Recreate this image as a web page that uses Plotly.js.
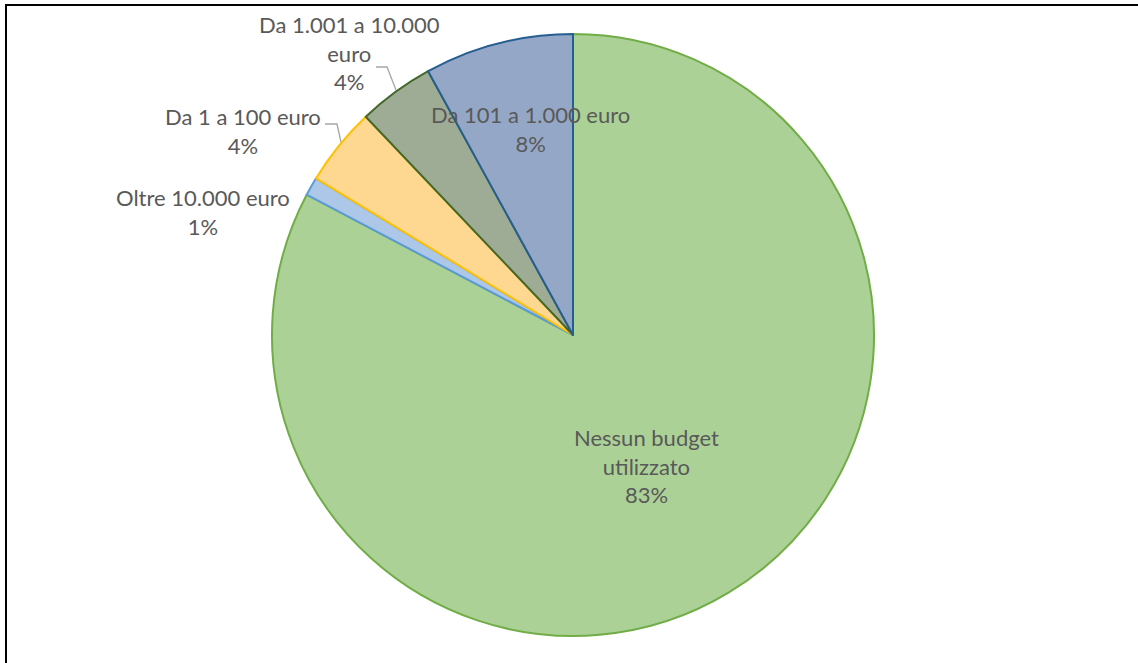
<!DOCTYPE html>
<html>
<head>
<meta charset="utf-8">
<script src="https://cdn.plot.ly/plotly-3.0.1.min.js"></script>
<style>
  html, body { margin: 0; padding: 0; background: #fff; overflow: hidden; }
  #chart { width: 1138px; height: 663px; }
  #frame { position: absolute; left: 5px; top: 4px; width: 2000px; height: 2000px;
           border-left: 2px solid #000; border-top: 2px solid #000; pointer-events: none; }
</style>
</head>
<body>
<div id="chart"></div>
<div id="frame"></div>
<script>
// Data (order clockwise from 12 o'clock)
const categories = ["Nessun budget utilizzato", "Oltre 10.000 euro", "Da 1 a 100 euro", "Da 1.001 a 10.000 euro", "Da 101 a 1.000 euro"];
const values = [82.8, 1.0, 4.2, 4.1, 8.0];
const percentLabels = ["83%", "1%", "4%", "4%", "8%"];
const labelTexts = ["Nessun budget<br>utilizzato<br>83%", "Oltre 10.000 euro<br>1%", "Da 1 a 100 euro<br>4%", "Da 1.001 a 10.000<br>euro<br>4%", "Da 101 a 1.000 euro<br>8%"];

const fillColors = ["#abd196", "#adc7e9", "#fed891", "#9fac95", "#94a7c6"];
const lineColors = ["#70ad47", "#5b9bd5", "#ffc000", "#43682b", "#255e91"];

const W = 1138, H = 663;
const cx = 573, cy = 335, R = 301;

// label centers in pixels (layout positions)
const labelPos = [[646, 466], [203, 212], [243, 131], [349, 53], [530, 129]];

const annotations = labelTexts.map((t, i) => ({
  text: t,
  x: labelPos[i][0] / W,
  y: 1 - labelPos[i][1] / H,
  xref: "paper", yref: "paper",
  xanchor: "center", yanchor: "middle",
  showarrow: false,
  align: "center",
  font: { family: "Lato, 'Open Sans', sans-serif", size: 22, color: "#595959" }
}));

const leader = (pts) => ({
  type: "path",
  xref: "paper", yref: "paper",
  path: pts.map((p, k) => (k ? "L" : "M") + (p[0] / W) + "," + (1 - p[1] / H)).join(" "),
  line: { color: "#a6a6a6", width: 1.3 }
});

const shapes = [
  leader([[376, 67], [387, 67], [396, 90]]),
  leader([[325, 124], [337, 124], [341, 142]])
];

const trace = {
  type: "pie",
  labels: categories,
  values: values,
  sort: false,
  direction: "clockwise",
  rotation: 0,
  textinfo: "none",
  hoverinfo: "label+percent",
  marker: { colors: fillColors, line: { color: lineColors, width: 2 } },
  domain: { x: [(cx - R) / W, (cx + R) / W], y: [1 - (cy + R) / H, 1 - (cy - R) / H] },
  showlegend: false
};

Plotly.newPlot("chart", [trace], {
  width: W, height: H,
  margin: { l: 0, r: 0, t: 0, b: 0 },
  paper_bgcolor: "#fff",
  showlegend: false,
  annotations: annotations,
  shapes: shapes
}, { displayModeBar: false, staticPlot: true });
</script>
</body>
</html>
